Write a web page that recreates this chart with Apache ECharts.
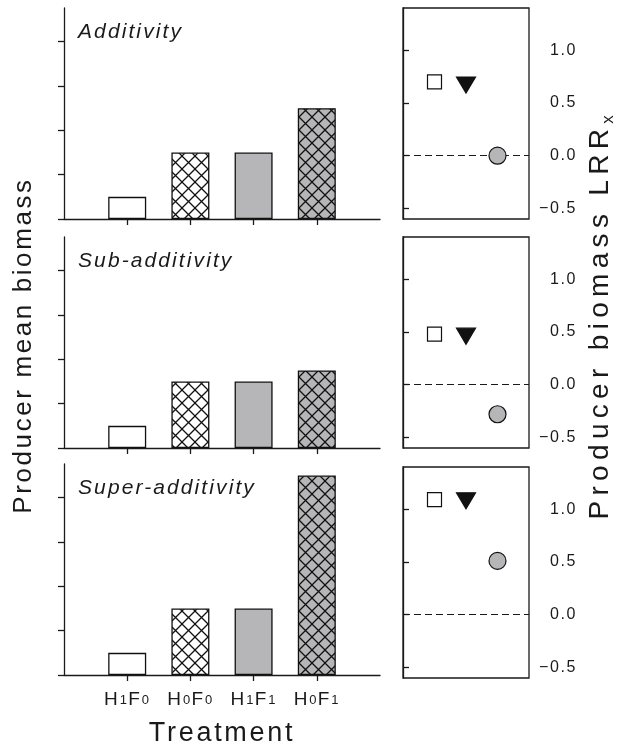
<!DOCTYPE html>
<html><head><meta charset="utf-8">
<script src="https://cdn.jsdelivr.net/npm/echarts@6/dist/echarts.min.js"></script>
<style>html,body{margin:0;padding:0;background:#fff}#c{width:617px;height:747px}</style>
</head><body><div id="c"></div>
<script>
// ---------- data ----------
const categories = ['H1F0', 'H0F0', 'H1F1', 'H0F1'];
const panelTitles = ['Additivity', 'Sub-additivity', 'Super-additivity'];
const additivityBiomass = [0.5, 1.5, 1.5, 2.5];
const subAdditivityBiomass = [0.5, 1.5, 1.5, 1.75];
const superAdditivityBiomass = [0.5, 1.5, 1.5, 4.5];
const lrrEffects = ['H', 'F', 'HF'];
const additivityLRR = [0.70, 0.67, 0.00];
const subAdditivityLRR = [0.48, 0.46, -0.28];
const superAdditivityLRR = [1.09, 1.08, 0.51];
const biomassTicks = [0, 1, 2, 3, 4];
const lrrTicks = [-0.5, 0, 0.5, 1.0];

const biomassSets = [additivityBiomass, subAdditivityBiomass, superAdditivityBiomass];
const lrrSets = [additivityLRR, subAdditivityLRR, superAdditivityLRR];

// ---------- letter spacing (the figure's text is tracked) ----------
(function () {
  var P = window.CanvasRenderingContext2D && CanvasRenderingContext2D.prototype;
  if (!P || !('letterSpacing' in P)) return;
  function ls(ctx) {
    var m = /([\d.]+)px/.exec(ctx.font);
    if (!m) { ctx.letterSpacing = '0px'; return; }
    var fs = parseFloat(m[1]);
    var em = fs === 28 ? 0.19 : 0.1;
    ctx.letterSpacing = (fs * em).toFixed(2) + 'px';
  }
  ['fillText', 'strokeText', 'measureText'].forEach(function (k) {
    var o = P[k];
    P[k] = function () { ls(this); return o.apply(this, arguments); };
  });
})();

// ---------- styles ----------
const FONT = '"Liberation Sans", Arial, Helvetica, sans-serif';
const INK = '#1a1a1a';
const GRAY = '#b6b6b9';
const LW = 1.3;

function hatch(bg) {
  const s = 13, c = document.createElement('canvas');
  c.width = s; c.height = s;
  const g = c.getContext('2d');
  g.fillStyle = bg; g.fillRect(0, 0, s, s);
  g.strokeStyle = '#111'; g.lineWidth = 1.3;
  g.beginPath();
  g.moveTo(-1, -1); g.lineTo(s + 1, s + 1);
  g.moveTo(s + 1, -1); g.lineTo(-1, s + 1);
  g.stroke();
  return c;
}
const barFills = [
  '#ffffff',
  { image: hatch('#ffffff'), repeat: 'repeat' },
  GRAY,
  { image: hatch(GRAY), repeat: 'repeat' }
];
const markerStyles = [
  { symbol: 'rect', size: 14, rotate: 0, color: '#ffffff' },
  { symbol: 'triangle', size: [19, 16], rotate: 180, color: '#111111' },
  { symbol: 'circle', size: 17, rotate: 0, color: GRAY }
];

const leftTops = [8, 237, 464];
const rightTops = [8, 237, 467];
const H = 211;

function catLabel(c) {
  return '{b|' + c[0] + '}{s|' + c[1] + '}{b|' + c[2] + '}{s|' + c[3] + '}';
}

const grid = [], xAxis = [], yAxis = [], series = [], title = [];

for (let p = 0; p < 3; p++) {
  // left bar panel
  grid.push({ left: 64, top: leftTops[p], width: 316, height: H, containLabel: false, outerBoundsMode: 'none' });
  const gi = grid.length - 1;
  const isBottom = p === 2;
  xAxis.push({
    gridIndex: gi, type: 'value', min: 0, max: 5,
    axisLine: { show: true, lineStyle: { color: INK, width: LW } },
    axisTick: { show: true, length: 6, customValues: [1, 2, 3, 4], lineStyle: { color: INK, width: LW } },
    axisLabel: isBottom ? {
      show: true, margin: 15, customValues: [1, 2, 3, 4],
      formatter: v => catLabel(categories[Math.round(v) - 1]),
      rich: {
        b: { fontFamily: FONT, fontSize: 19, lineHeight: 20, color: INK, verticalAlign: 'bottom' },
        s: { fontFamily: FONT, fontSize: 13, lineHeight: 14, color: INK, verticalAlign: 'bottom', padding: [0, 0, 2, 0] }
      }
    } : { show: false },
    splitLine: { show: false },
    name: isBottom ? 'Treatment' : '',
    nameLocation: 'middle', nameGap: 44,
    nameTextStyle: { fontFamily: FONT, fontSize: 27, color: INK }
  });
  yAxis.push({
    gridIndex: gi, type: 'value', min: 0, max: 4.76,
    axisLine: { show: true, lineStyle: { color: INK, width: LW } },
    axisTick: { show: true, length: 6, customValues: biomassTicks, lineStyle: { color: INK, width: LW } },
    axisLabel: { show: false },
    splitLine: { show: false },
    name: p === 1 ? 'Producer mean biomass' : '',
    nameLocation: 'middle', nameRotate: 90, nameGap: 26,
    nameTextStyle: { fontFamily: FONT, fontSize: 26, color: INK, padding: [0, 6, 0, 0] }
  });
  series.push({
    type: 'bar', xAxisIndex: gi, yAxisIndex: gi, barWidth: 38,
    data: biomassSets[p].map((v, i) => ({
      value: [i + 1, v],
      itemStyle: { color: barFills[i], borderColor: '#111', borderWidth: LW }
    })),
    silent: true, animation: false
  });
  title.push({
    text: panelTitles[p], left: 78, top: leftTops[p] + 13, padding: 0,
    textStyle: { fontFamily: FONT, fontStyle: 'italic', fontWeight: 'normal', fontSize: 21, color: INK }
  });

  // right LRR panel
  grid.push({ left: 403, top: rightTops[p], width: 126, height: H, containLabel: false, outerBoundsMode: 'none',
    show: true, borderColor: INK, borderWidth: LW, backgroundColor: 'transparent' });
  const gj = grid.length - 1;
  xAxis.push({ gridIndex: gj, type: 'value', min: 0, max: 4, show: false });
  yAxis.push({
    gridIndex: gj, type: 'value', min: -0.6, max: 1.4, position: 'right',
    axisLine: { show: true, lineStyle: { color: INK, width: LW } },
    axisTick: { show: true, length: 6, customValues: lrrTicks, lineStyle: { color: INK, width: LW } },
    axisLabel: {
      show: true, customValues: lrrTicks, align: 'right', margin: 48,
      fontFamily: FONT, fontSize: 16, color: INK,
      formatter: v => (v < 0 ? '\u2212' : '') + Math.abs(v).toFixed(1)
    },
    splitLine: { show: false },
    name: p === 1 ? '{m|Producer biomass LRR}{s|x}' : '',
    nameLocation: 'middle', nameRotate: 90, nameGap: 55,
    nameTextStyle: {
      padding: [0, 0, 0, 52],
      rich: {
        m: { fontFamily: FONT, fontSize: 28, color: INK, verticalAlign: 'bottom' },
        s: { fontFamily: FONT, fontSize: 17, color: INK, verticalAlign: 'bottom', lineHeight: 12 }
      }
    }
  });
  series.push({
    type: 'scatter', xAxisIndex: gj, yAxisIndex: gj, z: 3,
    data: lrrSets[p].map((v, i) => ({
      name: lrrEffects[i],
      value: [i + 1, v],
      symbol: markerStyles[i].symbol,
      symbolSize: markerStyles[i].size,
      symbolRotate: markerStyles[i].rotate,
      itemStyle: { color: markerStyles[i].color, borderColor: '#111', borderWidth: 1.2, opacity: 1 }
    })),
    markLine: {
      silent: true, z: 1, symbol: ['none', 'none'], label: { show: false },
      lineStyle: { type: [7, 4], color: INK, width: 1.2 },
      data: [{ yAxis: 0 }],
      animation: false
    },
    silent: true, animation: false
  });
}

const chart = echarts.init(document.getElementById('c'), null, { renderer: 'canvas' });
chart.setOption({
  animation: false,
  backgroundColor: '#ffffff',
  textStyle: { fontFamily: FONT },
  title, grid, xAxis, yAxis, series
});
</script>
</body></html>
